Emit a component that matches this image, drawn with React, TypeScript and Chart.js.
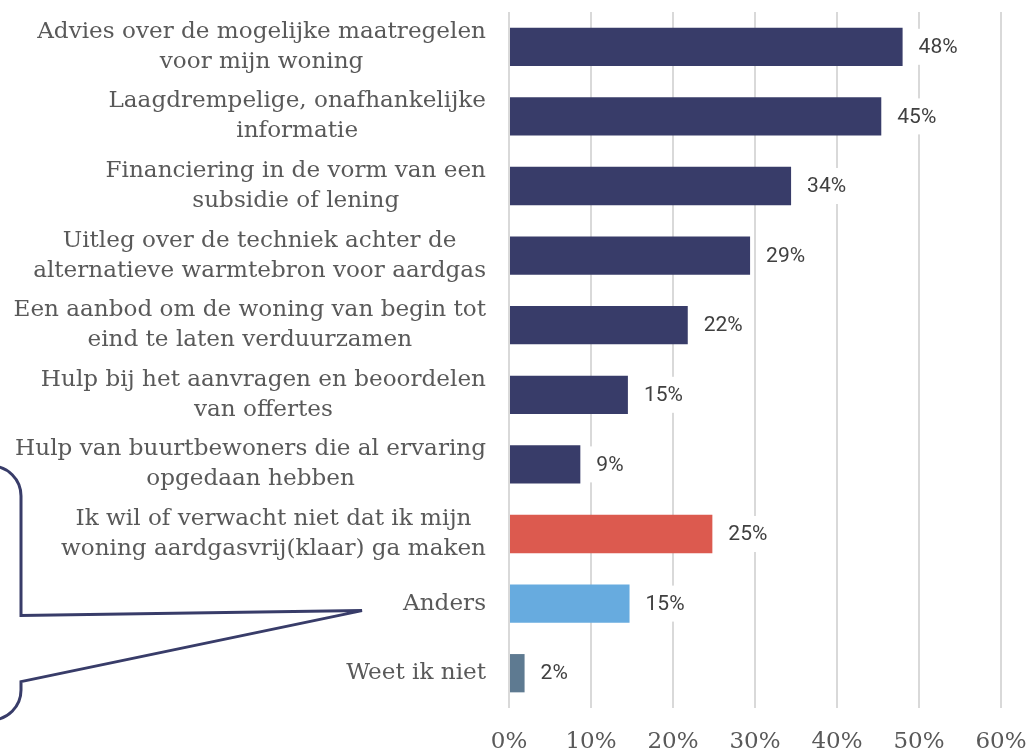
import React, { useEffect, useRef } from 'react';
import { Chart, registerables } from 'chart.js';

Chart.register(...registerables);

const categories: string[][] = [
  ['Advies over de mogelijke maatregelen', 'voor mijn woning'],
  ['Laagdrempelige, onafhankelijke', 'informatie'],
  ['Financiering in de vorm van een', 'subsidie of lening'],
  ['Uitleg over de techniek achter de', 'alternatieve warmtebron voor aardgas'],
  ['Een aanbod om de woning van begin tot', 'eind te laten verduurzamen'],
  ['Hulp bij het aanvragen en beoordelen', 'van offertes'],
  ['Hulp van buurtbewoners die al ervaring', 'opgedaan hebben'],
  ['Ik wil of verwacht niet dat ik mijn', 'woning aardgasvrij(klaar) ga maken'],
  ['Anders'],
  ['Weet ik niet'],
];

const values: number[] = [48.0, 45.4, 34.4, 29.4, 21.8, 14.5, 8.7, 24.8, 14.7, 1.9];
const valueLabels: string[] = ['48%', '45%', '34%', '29%', '22%', '15%', '9%', '25%', '15%', '2%'];

const NAVY = '#383c69';
const barColors: string[] = [NAVY, NAVY, NAVY, NAVY, NAVY, NAVY, NAVY, '#dc5a4f', '#67abdf', '#5e7a91'];

const xTickValues: number[] = [0, 10, 20, 30, 40, 50, 60];
const calloutCategoryIndex = 8;

const SERIF = '"DejaVu Serif", serif';
const TEXT_GRAY = '#595959';

const categoryLabelPlugin = {
  id: 'categoryLabels',
  afterDraw(chart: any) {
    const ctx = chart.ctx as CanvasRenderingContext2D;
    const yScale = chart.scales.y;
    ctx.save();
    ctx.font = `100px ${SERIF}`;
    const ref = ctx.measureText('alternatieve warmtebron voor aardgas').width;
    const size = (453 / ref) * 100;
    ctx.font = `${size}px ${SERIF}`;
    ctx.fillStyle = TEXT_GRAY;
    ctx.textAlign = 'center';
    ctx.textBaseline = 'middle';
    const rightEdge = chart.chartArea.left - 23;
    const lineH = 30;
    categories.forEach((lines, i) => {
      const cy = yScale.getPixelForValue(i);
      const bw = Math.max(...lines.map((l) => ctx.measureText(l).width));
      const cx = rightEdge - bw / 2;
      lines.forEach((l, j) => {
        ctx.fillText(l, cx, cy + (j - (lines.length - 1) / 2) * lineH);
      });
    });

    // callout bubble pointing at "Anders"
    const tipY = yScale.getPixelForValue(calloutCategoryIndex) + 7;
    const tipX = 362;
    const xr = 21;
    const r = 30;
    ctx.strokeStyle = NAVY;
    ctx.lineWidth = 3;
    ctx.lineJoin = 'miter';
    ctx.beginPath();
    ctx.arc(xr - r, 496, r, -Math.PI / 2, 0);
    ctx.lineTo(xr, tipY + 5);
    ctx.lineTo(tipX, tipY);
    ctx.lineTo(xr, tipY + 71);
    ctx.lineTo(xr, 690);
    ctx.arc(xr - r, 690, r, 0, Math.PI / 2);
    ctx.stroke();
    ctx.restore();
  },
};

const valueLabelPlugin = {
  id: 'valueLabels',
  afterDatasetsDraw(chart: any) {
    const ctx = chart.ctx as CanvasRenderingContext2D;
    const meta = chart.getDatasetMeta(0);
    ctx.save();
    ctx.font = '21px Roboto';
    ctx.textAlign = 'left';
    ctx.textBaseline = 'middle';
    meta.data.forEach((el: any, i: number) => {
      const txt = valueLabels[i];
      const x = el.x + 16;
      const y = el.y;
      const w = ctx.measureText(txt).width;
      ctx.fillStyle = '#ffffff';
      ctx.fillRect(x - 7, y - 18, w + 14, 36);
      ctx.fillStyle = '#404040';
      ctx.fillText(txt, x, y + 1);
    });
    ctx.restore();
  },
};

export default function App() {
  const canvasRef = useRef<HTMLCanvasElement | null>(null);

  useEffect(() => {
    document.body.style.margin = '0';
    document.body.style.overflow = 'hidden';
    const canvas = canvasRef.current;
    if (!canvas) return;
    const chart = new Chart(canvas, {
      type: 'bar',
      data: {
        labels: categories.map((c) => c.join(' ')),
        datasets: [
          {
            data: values,
            backgroundColor: barColors,
            borderWidth: 0,
            barPercentage: 0.55,
            categoryPercentage: 1,
          },
        ],
      },
      options: {
        indexAxis: 'y',
        responsive: false,
        animation: false,
        layout: { padding: { left: 509, right: 30, top: 12, bottom: 0 } },
        plugins: {
          legend: { display: false },
          tooltip: { enabled: false },
          title: { display: false },
        },
        scales: {
          x: {
            min: 0,
            max: 60,
            afterBuildTicks: (scale: any) => {
              scale.ticks = xTickValues.map((v) => ({ value: v }));
            },
            afterFit: (scale: any) => {
              scale.height = 43;
              scale.paddingRight = 0;
            },
            grid: { color: '#d9d9d9', lineWidth: 2, drawTicks: false },
            border: { display: false },
            ticks: {
              padding: 20,
              color: TEXT_GRAY,
              font: { family: SERIF, size: 23 },
              callback: (v: any) => `${v}%`,
            },
          },
          y: {
            display: false,
            grid: { display: false },
          },
        },
      },
      plugins: [valueLabelPlugin, categoryLabelPlugin],
    });
    return () => chart.destroy();
  }, []);

  return (
    <div style={{ width: 1031, height: 751 }}>
      <canvas ref={canvasRef} width={1031} height={751} style={{ display: 'block' }} />
    </div>
  );
}
